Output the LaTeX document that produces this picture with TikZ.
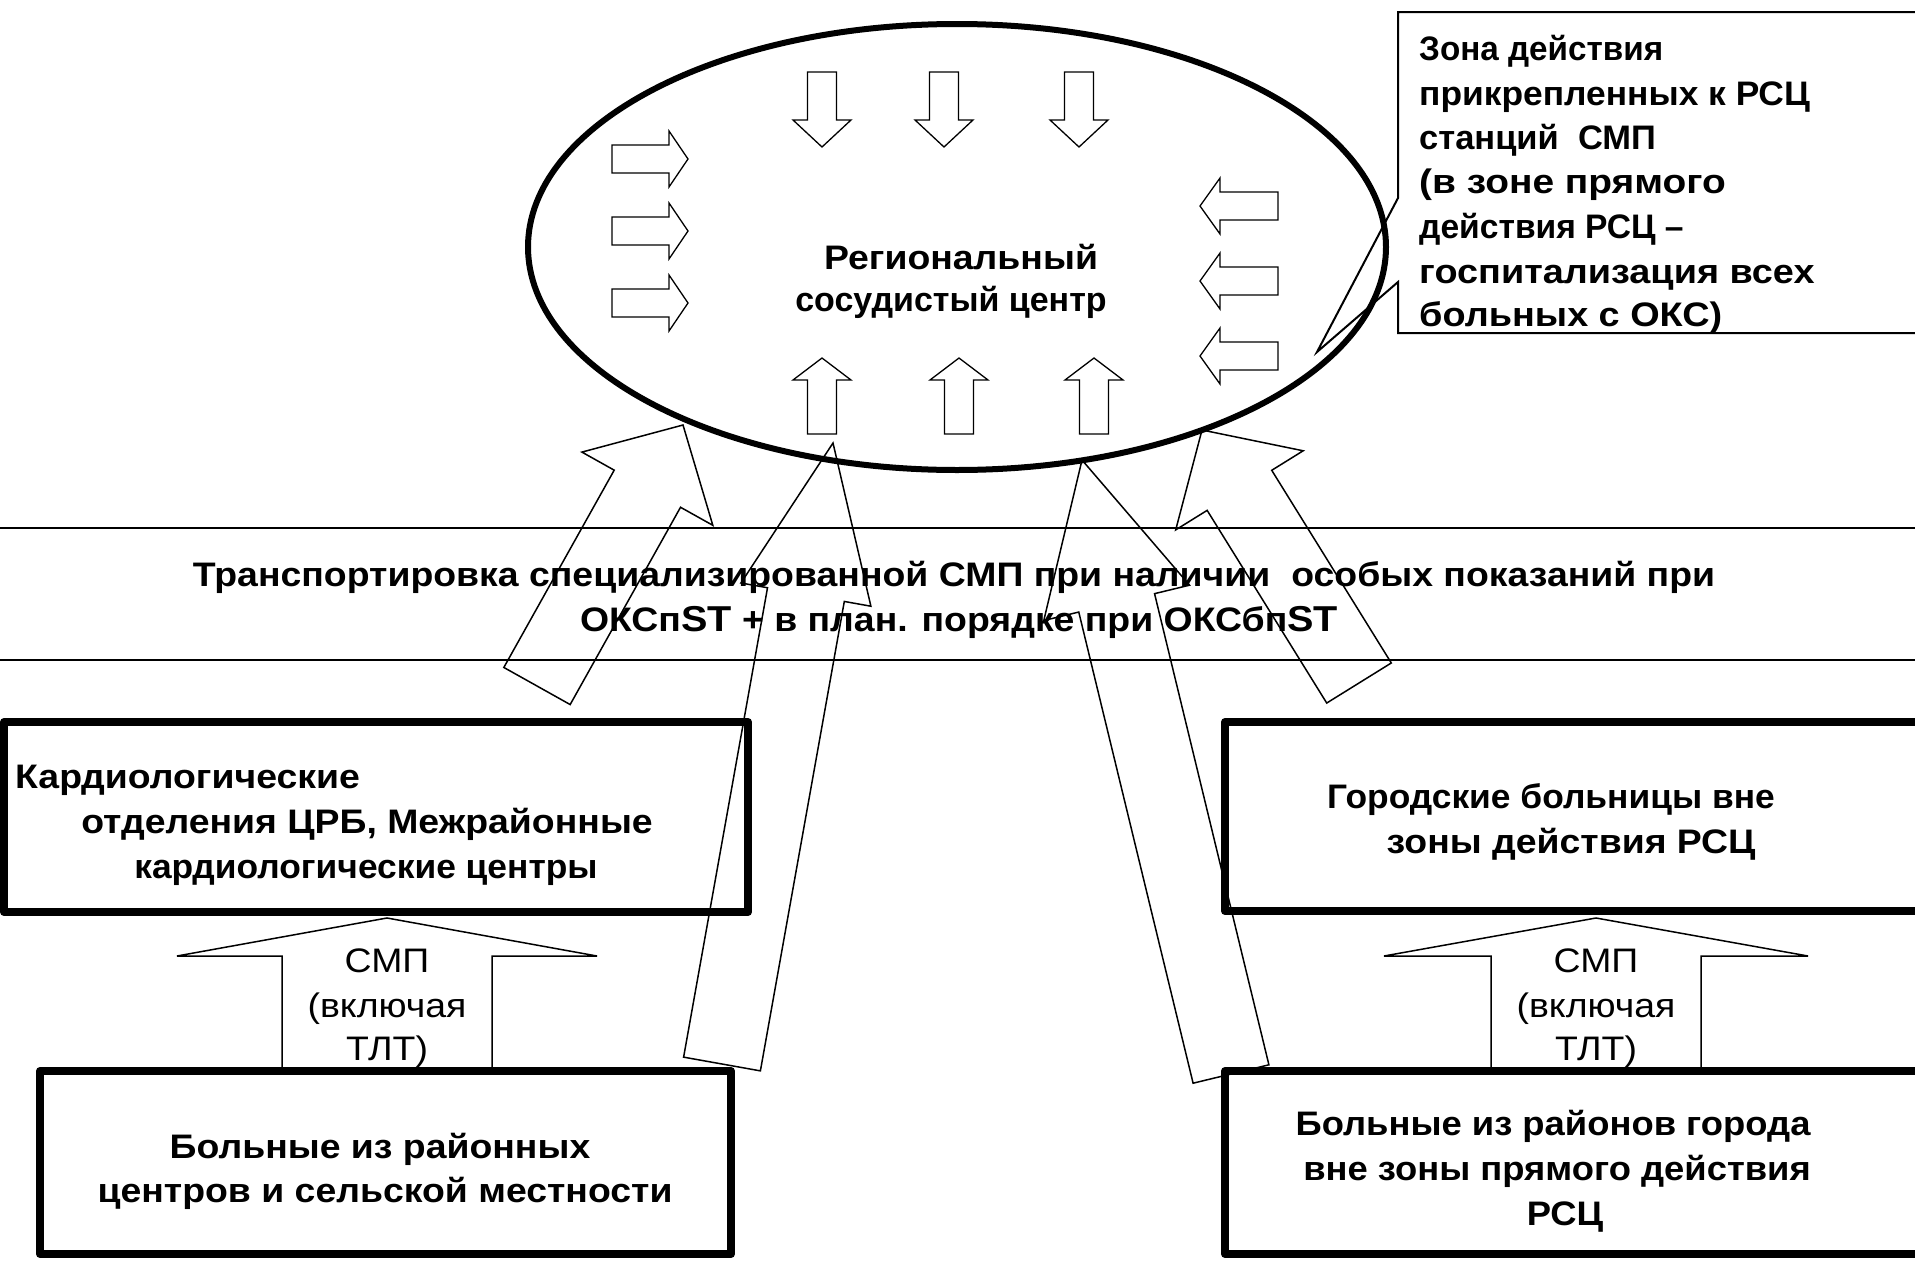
\documentclass[tikz,border=0pt]{standalone}
\usepackage{graphicx}
\usepackage{fontspec}
\setmainfont{Liberation Sans}
\newfontfamily\fsA[FakeStretch=1.1]{Liberation Sans}
\newfontfamily\fsB[FakeStretch=1.04]{Liberation Sans}
\newfontfamily\fsC[FakeStretch=1.07]{Liberation Sans}
\usetikzlibrary{calc,shapes.geometric}
\newcommand\blkarrow[6][]{%
  \coordinate (ba-base) at ($(#3)!#6!(#2)$);
  \draw[#1] ($(#2)!#4!90:(#3)$) -- ($(ba-base)!#4!90:(#3)$) -- ($(ba-base)!#5!90:(#3)$) -- (#3)
    -- ($(ba-base)!#5!-90:(#3)$) -- ($(ba-base)!#4!-90:(#3)$) -- ($(#2)!#4!-90:(#3)$) -- cycle;
}
\newcommand\hsq[2]{\scalebox{#1}[1]{#2}}
\tikzset{
  btext/.style={font=\fontsize{34}{40}\selectfont\bfseries, inner sep=0pt},
  btextA/.style={font=\fsA\fontsize{34}{40}\selectfont\bfseries, inner sep=0pt},
  btextB/.style={font=\fsB\fontsize{34}{40}\selectfont\bfseries, inner sep=0pt},
  btextC/.style={font=\fsC\fontsize{34}{40}\selectfont\bfseries, inner sep=0pt},
  rtext/.style={font=\fsA\fontsize{34}{40}\selectfont, inner sep=0pt},
  thinarr/.style={draw=black, line width=1.3pt, line join=miter},
  bigarr/.style={draw=black, line width=1.5pt, line join=miter},
  thickbox/.style={draw=black, rectangle, line width=8pt, inner sep=0pt, line join=round},
  thinbox/.style={draw=black, rectangle, line width=2pt, inner sep=0pt},
}
\begin{document}
\begin{tikzpicture}[x=1pt, y=-1pt]
\useasboundingbox (0,0) rectangle (1915,1261);
\clip (0,0) rectangle (1915,1261);

% callout box
\coordinate (ptr) at (1317,352);
\draw[line width=2pt, line join=miter] (1940,12) -- (1398,12) -- (1398,198) -- (ptr) -- (1398,282) -- (1398,333) -- (1940,333);
\node[btextB, anchor=base west] (z1) at (1419,60) {\hsq{0.94}{Зона действия}};
\node[btextB, anchor=base west] (z2) at (1419,105) {прикрепленных к РСЦ};
\node[btextB, anchor=base west] (z3) at (1419,149) {\hsq{0.975}{станций \ СМП}};
\node[btextB, anchor=base west] (z4) at (1419,193) {\hsq{1.1}{(в зоне прямого}};
\node[btextB, anchor=base west] (z5) at (1419,238) {\hsq{0.95}{действия РСЦ –}};
\node[btextB, anchor=base west] (z6) at (1419,283) {\hsq{1.07}{госпитализация всех}};
\node[btextB, anchor=base west] (z7) at (1419,326) {\hsq{1.07}{больных с ОКС)}};

% ellipse
\node[draw=black, ellipse, line width=6pt, minimum width=858pt, minimum height=446pt, inner sep=0pt] (rsc) at (957,247) {};
\node[btextA, anchor=base] (rsc1) at (961,269) {Региональный};
\node[btext, anchor=base] (rsc2) at (951,311) {сосудистый центр};

% small arrows inside ellipse
\foreach \cx [count=\i] in {822,944,1079} {
  \coordinate (td\i a) at (\cx,72); \coordinate (td\i b) at (\cx,147);
  \blkarrow[thinarr]{td\i a}{td\i b}{14.5pt}{29pt}{27pt}
}
\foreach \cx [count=\i] in {822,959,1094} {
  \coordinate (bu\i a) at (\cx,434); \coordinate (bu\i b) at (\cx,358);
  \blkarrow[thinarr]{bu\i a}{bu\i b}{14.5pt}{29pt}{22pt}
}
\foreach \cy [count=\i] in {159,231,303} {
  \coordinate (lr\i a) at (612,\cy); \coordinate (lr\i b) at (688,\cy);
  \blkarrow[thinarr]{lr\i a}{lr\i b}{14pt}{28pt}{19pt}
}
\foreach \cy [count=\i] in {206,281,356} {
  \coordinate (rl\i a) at (1278,\cy); \coordinate (rl\i b) at (1200,\cy);
  \blkarrow[thinarr]{rl\i a}{rl\i b}{14pt}{28pt}{20pt}
}

% transport box
\node[thinbox, minimum width=1940pt, minimum height=132pt] (trans) at (969,594) {};
\node[btextA, anchor=base] (tr1) at (954,586) {Транспортировка специализированной СМП при наличии \ особых показаний при};
\node[btextA, anchor=base] (tr2) at (959,631) {ОКСп{\fontsize{36}{40}\selectfont ST} + в план. порядке при ОКСбп{\fontsize{36}{40}\selectfont ST}};

% boxes
\node[thickbox, minimum width=744pt, minimum height=190pt] (kardio) at (376,817) {};
\node[btextA, anchor=base west] (k1) at (15,788) {Кардиологические};
\node[btextA, anchor=base] (k2) at (367,833) {отделения ЦРБ, Межрайонные};
\node[btextB, anchor=base] (k3) at (366,878) {кардиологические центры};

\node[thickbox, minimum width=720pt, minimum height=189pt] (city) at (1585,816.5) {};
\node[btextB, anchor=base] (c1) at (1551,808) {Городские больницы вне};
\node[btextA, anchor=base] (c2) at (1571,853) {зоны действия РСЦ};

\node[thickbox, minimum width=691pt, minimum height=183pt] (rural) at (385.5,1162.5) {};
\node[btextA, anchor=base] (r1) at (380,1158) {Больные из районных};
\node[btextA, anchor=base] (r2) at (385,1202) {центров и сельской местности};

\node[thickbox, minimum width=720pt, minimum height=183pt] (urban) at (1585,1162.5) {};
\node[btextC, anchor=base] (u1) at (1553,1135) {Больные из районов города};
\node[btextC, anchor=base] (u2) at (1557,1180) {вне зоны прямого действия};
\node[btextC, anchor=base] (u3) at (1565,1225) {РСЦ};

% SMP arrows
\coordinate (sl-a) at (387,1068); \coordinate (sl-b) at (387,918);
\blkarrow[bigarr]{sl-a}{sl-b}{105pt}{210pt}{38pt}
\node[rtext, anchor=base] (sl1) at (387,972) {СМП};
\node[rtext, anchor=base] (sl2) at (387,1017) {(включая};
\node[rtext, anchor=base] (sl3) at (387,1060) {ТЛТ)};

\coordinate (sr-a) at (1596,1068); \coordinate (sr-b) at (1596,918);
\blkarrow[bigarr]{sr-a}{sr-b}{105pt}{212pt}{38pt}
\node[rtext, anchor=base] (sr1) at (1596,972) {СМП};
\node[rtext, anchor=base] (sr2) at (1596,1017) {(включая};
\node[rtext, anchor=base] (sr3) at (1596,1060) {ТЛТ)};

% big crossing arrows
\coordinate (A-tail) at (537,686); \coordinate (A-tip) at (683,425);
\blkarrow[bigarr]{A-tail}{A-tip}{38pt}{75pt}{73pt}
\coordinate (B-tail) at (722,1064); \coordinate (B-tip) at (833,443);
\blkarrow[bigarr]{B-tail}{B-tip}{39pt}{66pt}{154pt}
\coordinate (C-tail) at (1231,1074); \coordinate (C-tip) at (1082,460);
\blkarrow[bigarr]{C-tail}{C-tip}{39pt}{75pt}{147pt}
\coordinate (D-tail) at (1359,683); \coordinate (D-tip) at (1202,430);
\blkarrow[bigarr]{D-tail}{D-tip}{38pt}{75pt}{71pt}
\end{tikzpicture}
\end{document}
